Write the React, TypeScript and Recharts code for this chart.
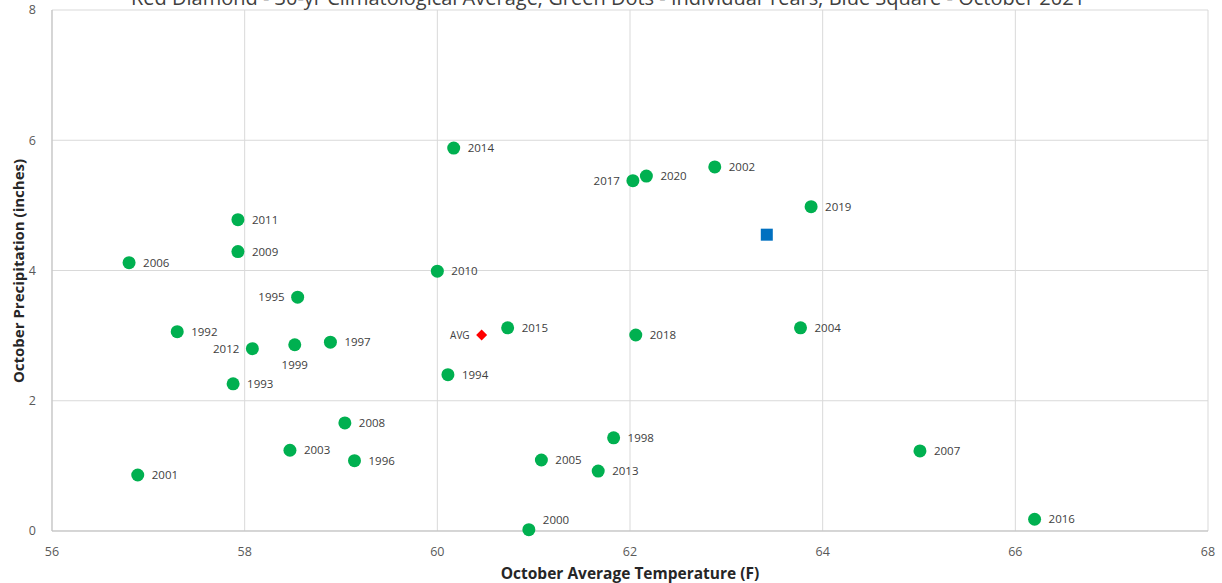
import { CartesianGrid, Scatter, ScatterChart, XAxis, YAxis } from "recharts";

const years = [
  2014, 2017, 2020, 2002, 2019, 2011, 2009, 2006, 2010, 1995, 1992, 2012, 1999, 1997, 2015,
  2018, 2004, 1994, 1993, 2008, 2003, 1996, 1998, 2005, 2013, 2007, 2001, 2000, 2016,
];
const temps = [
  60.17, 62.03, 62.17, 62.88, 63.88, 57.93, 57.93, 56.8, 60.0, 58.55, 57.3, 58.08, 58.52, 58.89,
  60.73, 62.06, 63.77, 60.11, 57.88, 59.04, 58.47, 59.14, 61.83, 61.08, 61.67, 65.01, 56.89,
  60.95, 66.2,
];
const precip = [
  5.88, 5.38, 5.45, 5.59, 4.98, 4.78, 4.29, 4.12, 3.99, 3.59, 3.06, 2.8, 2.86, 2.9, 3.12, 3.01,
  3.12, 2.4, 2.26, 1.66, 1.24, 1.08, 1.43, 1.09, 0.92, 1.23, 0.86, 0.02, 0.18,
];
const average = { temp: 60.46, precip: 3.01 };
const current = { temp: 63.42, precip: 4.55 };

const xTicks = [56, 58, 60, 62, 64, 66, 68];
const yTicks = [0, 2, 4, 6, 8];

// labels that sit left of / below / above-right of their dot instead of to the right
const leftLabels = [2017, 1995, 2012];
const belowLabels = [1999];
const raisedLabels = [2000];

const FONT = "'Open Sans', 'Noto Sans', sans-serif";

const yearData = years.map((year, i) => ({ year, x: temps[i], y: precip[i] }));

function Dot(props: any) {
  const { cx, cy, payload } = props;
  const year = payload.year;
  let dx = 14;
  let dy = 4;
  let anchor: "start" | "end" | "middle" = "start";
  if (leftLabels.includes(year)) {
    dx = -13;
    anchor = "end";
  } else if (belowLabels.includes(year)) {
    dx = 0;
    dy = 24;
    anchor = "middle";
  } else if (raisedLabels.includes(year)) {
    dy = -6;
  }
  return (
    <g>
      <circle cx={cx} cy={cy} r={6.5} fill="#00b050" />
      <text x={cx + dx} y={cy + dy} textAnchor={anchor} fontSize={11.5} fill="#404040" fontFamily={FONT}>
        {year}
      </text>
    </g>
  );
}

function Diamond(props: any) {
  const { cx, cy } = props;
  const s = 5.5;
  return (
    <g>
      <polygon points={`${cx},${cy - s} ${cx + s},${cy} ${cx},${cy + s} ${cx - s},${cy}`} fill="#ff0000" />
      <text x={cx - 12} y={cy + 4} textAnchor="end" fontSize={10} fill="#404040" fontFamily={FONT}>
        AVG
      </text>
    </g>
  );
}

function Square(props: any) {
  const { cx, cy } = props;
  return <rect x={cx - 6} y={cy - 6} width={12} height={12} fill="#0070c0" />;
}

export default function App() {
  return (
    <div style={{ position: "absolute", left: 0, top: 0, width: 1222, height: 583, background: "#fff" }}>
      <ScatterChart width={1222} height={583} margin={{ top: 10, right: 14, bottom: 0, left: 0 }}>
        <CartesianGrid stroke="#d9d9d9" strokeWidth={1} />
        <XAxis
          type="number"
          dataKey="x"
          domain={[56, 68]}
          ticks={xTicks}
          height={52}
          axisLine={{ stroke: "#bfbfbf" }}
          tickLine={false}
          tick={{ fontSize: 12.5, fill: "#595959", fontFamily: FONT }}
          tickMargin={10}
          label={{
            value: "October Average Temperature (F)",
            position: "insideBottom",
            offset: 4,
            fontSize: 15.5,
            fontWeight: 700,
            fill: "#262626",
            fontFamily: FONT,
          }}
        />
        <YAxis
          type="number"
          dataKey="y"
          domain={[0, 8]}
          ticks={yTicks}
          width={52}
          axisLine={{ stroke: "#bfbfbf" }}
          tickLine={false}
          tick={{ fontSize: 12.5, fill: "#595959", fontFamily: FONT }}
          tickMargin={10}
        />
        <Scatter data={yearData} shape={<Dot />} isAnimationActive={false} />
        <Scatter data={[{ x: average.temp, y: average.precip }]} shape={<Diamond />} isAnimationActive={false} />
        <Scatter data={[{ x: current.temp, y: current.precip }]} shape={<Square />} isAnimationActive={false} />
        <text
          x={18}
          y={271}
          transform="rotate(-90 18 271)"
          textAnchor="middle"
          dominantBaseline="central"
          fontSize={15}
          fontWeight={700}
          fill="#262626"
          fontFamily={FONT}
        >
          October Precipitation (inches)
        </text>
        <text x={608} y={5} textAnchor="middle" fontSize={20} fill="#404040" fontFamily={FONT}>
          Red Diamond - 30-yr Climatological Average; Green Dots - Individual Years; Blue Square - October 2021
        </text>
      </ScatterChart>
    </div>
  );
}
